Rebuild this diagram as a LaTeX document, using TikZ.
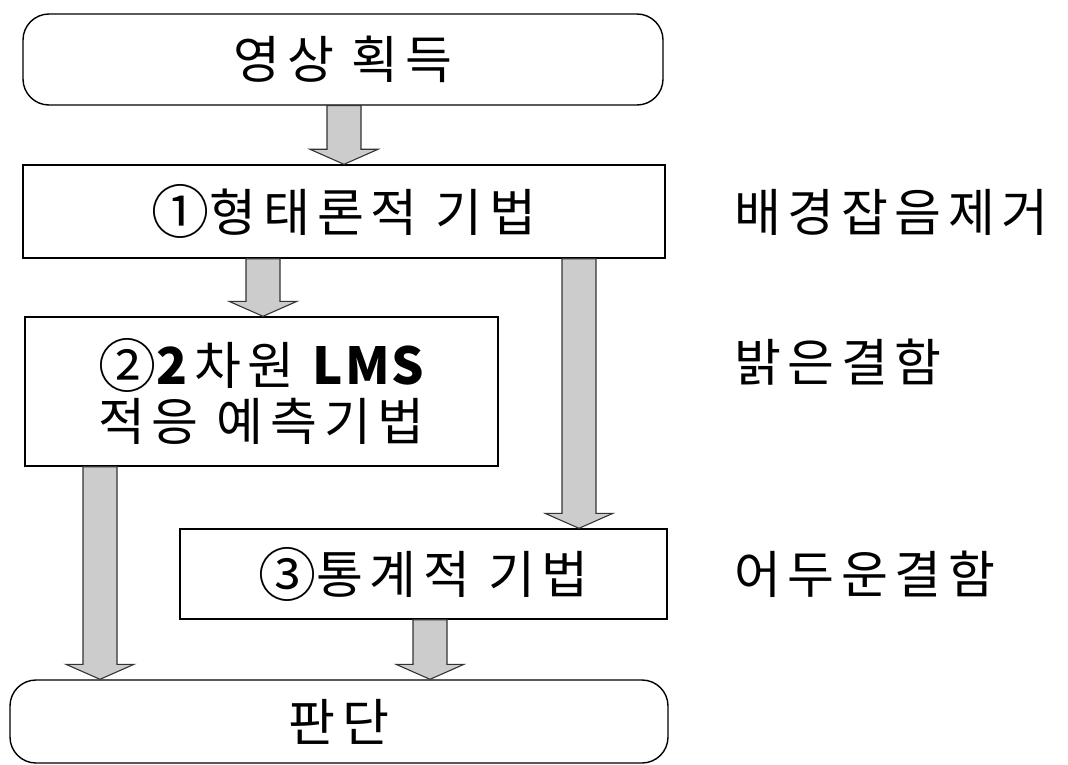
\documentclass[tikz,border=0pt]{standalone}
\usepackage{fontspec}
\setmainfont{Noto Sans CJK KR}[LetterSpace=13]
\newfontfamily\krtight{Noto Sans CJK KR}[LetterSpace=4]
\usetikzlibrary{calc}
\newcommand{\circnum}[1]{\raisebox{-2.5pt}{\fontsize{58}{58}\selectfont #1}}
\tikzset{
  box/.style={draw=black, line width=1.4pt, inner sep=0pt, align=center,
    font=\fontsize{51}{56}\selectfont},
  rbox/.style={box, rounded corners=26pt},
  lbl/.style={anchor=west, inner sep=0pt, font=\fontsize{51}{56}\selectfont},
  fatarrow/.style={draw=black!80, fill=black!20, line width=1.1pt, line join=miter},
}
\newcommand{\fatarr}[2]{%
  \path[fatarrow] let \p1=(#1), \p2=(#2) in
    (\x1-17pt,\y1) -- (\x1-17pt,\y2+15pt) -- (\x1-34pt,\y2+15pt) -- (\x1,\y2)
    -- (\x1+34pt,\y2+15pt) -- (\x1+17pt,\y2+15pt) -- (\x1+17pt,\y1) -- cycle;}
\begin{document}
\begin{tikzpicture}[x=1pt,y=-1pt]
\useasboundingbox (0,0) rectangle (1068,765);
% boxes
\node[rbox, minimum width=640pt, minimum height=91pt] (top) at (343,59.5) {영상 획득};
\node[box, minimum width=642pt, minimum height=93pt] (m1) at (344,211.5) {\circnum{①}형태론적 기법};
\node[box, minimum width=473pt, minimum height=149pt] (m2) at (261.5,391.5)
  {\circnum{②}\textbf{2}차원 {\krtight\bfseries LMS}\\적응 예측기법};
\node[box, minimum width=487pt, minimum height=90pt] (m3) at (423.5,574) {\circnum{③}통계적 기법};
\node[rbox, minimum width=658pt, minimum height=83pt] (bot) at (339,721.5) {판단};
% side labels
\node[lbl] (l1) at (734,212) {배경잡음제거};
\node[lbl] (l2) at (734,362) {밝은결함};
\node[lbl] (l3) at (734,574) {어두운결함};
% arrow columns
\coordinate (cA) at (344,0);
\coordinate (cB) at (263,0);
\coordinate (cC) at (579,0);
\coordinate (cD) at (100,0);
\coordinate (cE) at (430,0);
% fat arrows
\fatarr{top.south -| cA}{m1.north -| cA}
\fatarr{m1.south -| cB}{m2.north -| cB}
\fatarr{m1.south -| cC}{m3.north -| cC}
\fatarr{m2.south -| cD}{bot.north -| cD}
\fatarr{m3.south -| cE}{bot.north -| cE}
\end{tikzpicture}
\end{document}
